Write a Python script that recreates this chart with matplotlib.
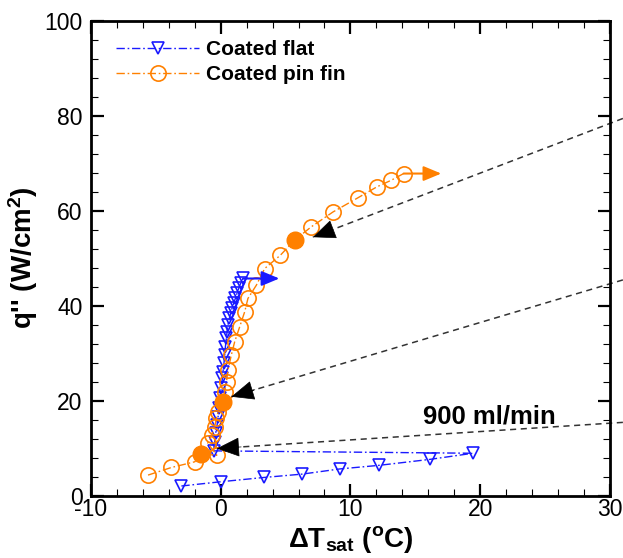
import numpy as np
import matplotlib
matplotlib.use("Agg")
import matplotlib.pyplot as plt
from matplotlib.ticker import MultipleLocator

plt.rcParams['font.family'] = ['Liberation Sans', 'DejaVu Sans']
plt.rcParams['mathtext.fontset'] = 'custom'
plt.rcParams['mathtext.rm'] = 'Liberation Sans'
plt.rcParams['mathtext.bf'] = 'Liberation Sans:bold'
plt.rcParams['mathtext.it'] = 'Liberation Sans:italic'
plt.rcParams['axes.unicode_minus'] = False

# Coated flat: low-flux branch, then the steep boiling branch
flat_dT = [-3.03, 0.02, 3.34, 6.26, 9.2, 12.2, 16.1, 19.45,
           -0.54, -0.46, -0.39, -0.28, -0.2, -0.13, -0.08, 0.05, 0.13, 0.18,
           0.25, 0.31, 0.36, 0.44, 0.49, 0.56, 0.67, 0.77, 0.87, 1.0, 1.13,
           1.26, 1.39, 1.54, 1.72]
flat_q = [2.0, 2.9, 3.8, 4.5, 5.6, 6.35, 7.6, 8.9,
          9.4, 11.3, 13.1, 14.8, 16.6, 18.4, 20.5, 22.6, 24.7, 26.1,
          27.8, 29.6, 31.3, 33.1, 34.5, 35.9, 37.3, 38.4, 39.4, 40.5, 41.5,
          42.6, 43.6, 44.7, 45.7]

# Coated pin fin
pin_dT = [-5.6, -3.8, -2.0, -1.5, -0.3, -1.0, -0.7, -0.46, -0.33, -0.2,
          0.18, 0.3, 0.45, 0.56, 0.82, 1.08, 1.46, 1.85, 2.1, 2.75, 3.39,
          4.6, 5.7, 6.99, 8.65, 10.58, 12.04, 13.15, 14.1]
pin_q = [4.3, 5.9, 7.1, 8.7, 8.5, 11.0, 12.7, 14.5, 16.3, 17.6,
         19.7, 21.9, 24.0, 26.4, 29.6, 32.4, 35.5, 38.7, 41.5, 44.3, 47.8,
         50.6, 53.8, 56.6, 59.7, 62.7, 65.0, 66.4, 67.8]
pin_filled = [3, 10, 22]

# dashed pointers: (start outside right edge, arrow tip)
pointers = [((31.0, 79.4), (7.1, 54.4)),
            ((31.0, 45.4), (0.82, 20.8)),
            ((31.0, 15.4), (-0.3, 9.9))]

blue = '#1a1aff'
orange = '#ff8000'
dashdot = (0, (6, 2, 1.2, 2))

fig = plt.figure(figsize=(6.23, 5.58), dpi=100)
ax = fig.add_axes([0.146, 0.112, 0.833, 0.851])

ax.plot(flat_dT, flat_q, color=blue, ls=dashdot, lw=1.0, marker='v',
        ms=8, mfc='none', mec=blue, mew=1.2, label='Coated flat')
ax.plot(pin_dT, pin_q, color=orange, ls=dashdot, lw=1.0, marker='o',
        ms=11, mfc='none', mec=orange, mew=1.2, label='Coated pin fin')
ax.plot([pin_dT[i] for i in pin_filled], [pin_q[i] for i in pin_filled],
        ls='none', marker='o', ms=12, mfc=orange, mec=orange)

# direction arrows at the end of each curve
ax.annotate('', xy=(flat_dT[-1] + 2.8, flat_q[-1]), xytext=(flat_dT[-1], flat_q[-1]),
            arrowprops=dict(arrowstyle='-|>,head_length=0.6,head_width=0.25',
                            color=blue, lw=1.5, mutation_scale=18,
                            shrinkA=0, shrinkB=0))
ax.annotate('', xy=(pin_dT[-1] + 2.9, pin_q[-1]), xytext=(pin_dT[-1], pin_q[-1]),
            arrowprops=dict(arrowstyle='-|>,head_length=0.6,head_width=0.25',
                            color=orange, lw=1.5, mutation_scale=18,
                            shrinkA=0, shrinkB=0))

for (x0, y0), (x1, y1) in pointers:
    ax.plot([x0, x1], [y0, y1], color='#333333', ls=(0, (4, 3)), lw=1.1,
            clip_on=False)
    xm = x1 + (x0 - x1) * 0.06
    ym = y1 + (y0 - y1) * 0.06
    ax.annotate('', xy=(x1, y1), xytext=(xm, ym),
                arrowprops=dict(arrowstyle='-|>,head_length=0.75,head_width=0.32',
                                color='black', lw=0.5, mutation_scale=20,
                                shrinkA=0, shrinkB=0))

ax.text(15.6, 16.6, '900 ml/min', fontsize=18.5, fontweight='bold',
        va='center', ha='left')

ax.set_xlim(-10, 30)
ax.set_ylim(0, 100)
ax.xaxis.set_major_locator(MultipleLocator(10))
ax.xaxis.set_minor_locator(MultipleLocator(2))
ax.yaxis.set_major_locator(MultipleLocator(20))
ax.yaxis.set_minor_locator(MultipleLocator(4))
ax.tick_params(which='both', direction='in', top=True, right=True,
               labelsize=16.5)
ax.tick_params(which='major', length=9, width=1.6)
ax.tick_params(which='minor', length=5, width=0.8)
ax.tick_params(axis='x', pad=2)
ax.tick_params(axis='y', pad=6)
for sp in ax.spines.values():
    sp.set_linewidth(2.0)

ax.set_xlabel(r'$\mathbf{\Delta T_{sat}}$ ($\mathbf{^o}$C)', fontsize=20,
              fontweight='bold', labelpad=2)
ax.set_ylabel(r"q'' (W/cm$\mathbf{^2}$)", fontsize=20, fontweight='bold',
              labelpad=3)

ax.legend(loc='upper left', frameon=False,
          prop={'weight': 'bold', 'size': 15}, handlelength=4.0,
          handletextpad=0.3, borderaxespad=0.3, labelspacing=0.3,
          bbox_to_anchor=(0.02, 0.99))

fig.savefig('out.png', dpi=100)
